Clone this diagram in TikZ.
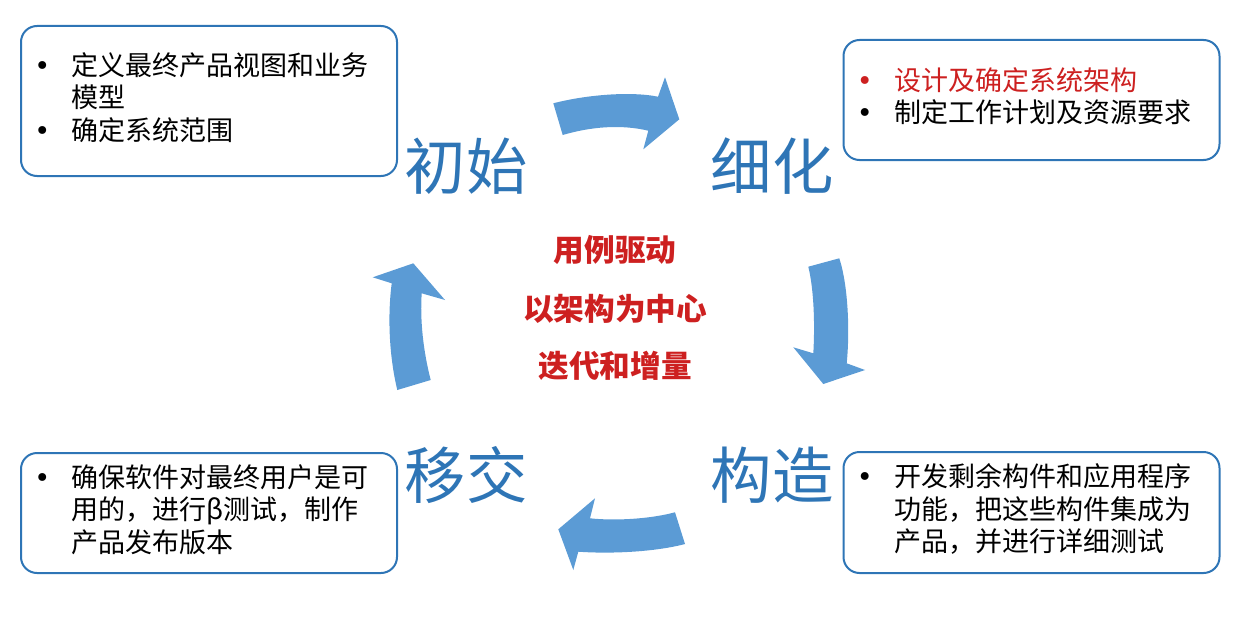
\documentclass[tikz,border=0pt]{standalone}
\usepackage{fontspec}
\setmainfont{Noto Sans CJK SC}
\newfontfamily\bulfont{DejaVu Sans}
\usepackage{array}
\definecolor{phaseblue}{RGB}{46,117,182}
\definecolor{arrowblue}{RGB}{91,155,213}
\definecolor{keyred}{RGB}{205,32,32}
\newcommand{\bul}{{\bulfont •}}
\tikzset{
  phasebox/.style={draw=phaseblue, line width=1.5pt, rounded corners=12pt, fill=white,
    text width=262pt, inner xsep=10pt, align=left, font=\fontsize{20.25}{24}\selectfont},
  phaselabel/.style={text=phaseblue, inner sep=0pt, font=\fontsize{46}{50}\selectfont},
  coretext/.style={text=keyred, inner sep=0pt, font=\fontsize{23}{26}\selectfont\bfseries},
  bigarrow/.style={fill=arrowblue, draw=none}
}
\begin{document}
\begin{tikzpicture}[x=0.75pt,y=0.75pt,yscale=-1,xscale=1]
\useasboundingbox (0,0) rectangle (1252,617);

%Shape: Rounded Rect [id:initbox]
\node (initbox) [phasebox, minimum height=112.5pt] at (209,101) {%
\begin{tabular}{@{}p{28pt}@{}l@{}}
\bul & 定义最终产品视图和业务\\
  & 模型\\
\bul & 确定系统范围
\end{tabular}};
%Shape: Rounded Rect [id:elabbox]
\node (elabbox) [phasebox, minimum height=90pt] at (1031.5,100) {%
\begin{tabular}{@{}p{28pt}@{}l@{}}
\textcolor{keyred}{\bul} & \textcolor{keyred}{设计及确定系统架构}\\
\bul & 制定工作计划及资源要求
\end{tabular}};
%Shape: Rounded Rect [id:buildbox]
\node (buildbox) [phasebox, minimum height=90.75pt] at (1031.5,512.5) {%
\begin{tabular}{@{}p{28pt}@{}l@{}}
\bul & 开发剩余构件和应用程序\\
  & 功能，把这些构件集成为\\
  & 产品，并进行详细测试
\end{tabular}};
%Shape: Rounded Rect [id:movebox]
\node (movebox) [phasebox, minimum height=90pt] at (209,513) {%
\begin{tabular}{@{}p{28pt}@{}l@{}}
\bul & 确保软件对最终用户是可\\
  & 用的，进行β测试，制作\\
  & 产品发布版本
\end{tabular}};

% Text Node
\node (init) [phaselabel] at (466,166) {初始};
% Text Node
\node (elab) [phaselabel] at (772,166) {细化};
% Text Node
\node (build) [phaselabel] at (772,475) {构造};
% Text Node
\node (move) [phaselabel] at (466,475) {移交};

% Text Node
\node (usecase) [coretext] at (615,250) {用例驱动};
% Text Node
\node (archcore) [coretext] at (615,309) {以架构为中心};
% Text Node
\node (iterate) [coretext] at (615,366) {迭代和增量};

%Shape: Curved Right Arrow [id:toparrow]
\path [bigarrow] (553.3,103.3) .. controls (585,95) and (630,91) .. (658,96.7) -- (665,77.3) -- (679.3,119.3) -- (643.3,149.3) -- (648.3,130.7) .. controls (620,124) and (590,127) .. (562.7,135) -- cycle;
%Shape: Curved Down Arrow [id:rightarrow]
\path [bigarrow] (839.3,258.3) .. controls (848,285) and (850,330) .. (846.7,363.3) -- (865,370) -- (823.3,384) -- (793.3,347.3) -- (813.3,353.3) .. controls (815,325) and (814,290) .. (808.3,266.7) -- cycle;
%Shape: Curved Left Arrow [id:bottomarrow]
\path [bigarrow] (675,512.3) .. controls (650,519) and (615,521) .. (590,518.3) -- (595,498.3) -- (558.3,529.3) -- (573.3,570) -- (578.3,551.7) .. controls (610,554) and (655,552) .. (685,544) -- cycle;
%Shape: Curved Up Arrow [id:leftarrow]
\path [bigarrow] (430.7,380) .. controls (423,350) and (420,320) .. (421.7,293.3) -- (445,300) -- (413.3,263.3) -- (372.7,277.3) -- (391.7,283.3) .. controls (387,320) and (390,360) .. (397.3,390) -- cycle;

\end{tikzpicture}
\end{document}
